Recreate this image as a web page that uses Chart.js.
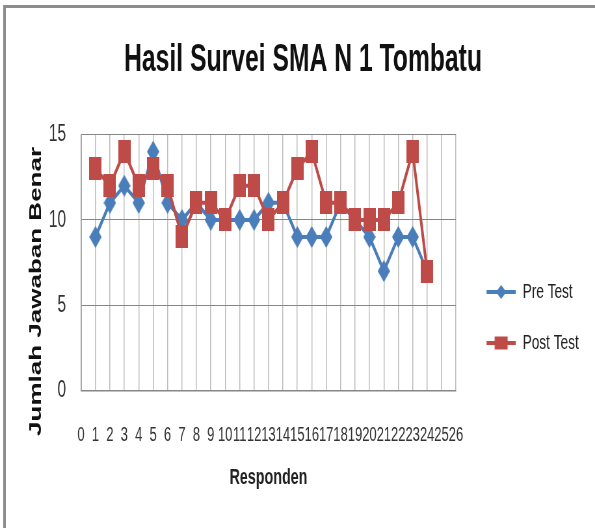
<!DOCTYPE html>
<html>
<head>
<meta charset="utf-8">
<title>Hasil Survei SMA N 1 Tombatu</title>
<script src="https://cdn.jsdelivr.net/npm/chart.js@4.4.0/dist/chart.umd.min.js"></script>
<style>
  html, body { margin: 0; padding: 0; background: #fff; }
</style>
</head>
<body>
<!-- the reference picture is squeezed sideways, so the chart is drawn 915 wide and shown at 595 -->
<canvas id="chart" width="915" height="528" style="width:595px;height:528px"></canvas>
<script>
const responden = ['0', '1', '2', '3', '4', '5', '6', '7', '8', '9', '10', '11', '12', '13',
  '14', '15', '16', '17', '18', '19', '20', '21', '22', '23', '24', '25', '26'];
const preTest = [null, 9, 11, 12, 11, 14, 11, 10, 11, 10, 10, 10, 10, 11, 11,
  9, 9, 9, 11, 10, 9, 7, 9, 9, 7, null, null];
const postTest = [null, 13, 12, 14, 12, 13, 12, 9, 11, 11, 10, 12, 12, 10, 11,
  13, 14, 11, 11, 10, 10, 10, 11, 14, 7, null, null];
const yTicks = [0, 5, 10, 15];

const BLUE = '#4A7EBB';
const RED = '#BE4B48';
const FONT = "'Liberation Sans', Arial, sans-serif";
Chart.defaults.font.family = FONT;

// markers are a bit taller than wide in the reference
function marker(color, shape, w, h) {
  const c = document.createElement('canvas');
  c.width = w;
  c.height = h;
  const g = c.getContext('2d');
  g.fillStyle = color;
  g.beginPath();
  if (shape === 'diamond') {
    g.moveTo(0, h / 2);
    g.lineTo(w / 2, 0);
    g.lineTo(w, h / 2);
    g.lineTo(w / 2, h);
  } else {
    g.rect(0, 0, w, h);
  }
  g.fill();
  return c;
}
const diamond = marker(BLUE, 'diamond', 19, 22);
const square = marker(RED, 'square', 19, 23);

// small line + marker pictures for the legend
function legendIcon(color, shape) {
  const c = document.createElement('canvas');
  c.width = 62;
  c.height = 24;
  const g = c.getContext('2d');
  g.strokeStyle = color;
  g.fillStyle = color;
  g.lineWidth = 4;
  g.beginPath();
  g.moveTo(17, 12);
  g.lineTo(62, 12);
  g.stroke();
  const cx = 39.5;
  g.beginPath();
  if (shape === 'diamond') {
    g.moveTo(cx - 8, 12);
    g.lineTo(cx, 5);
    g.lineTo(cx + 8, 12);
    g.lineTo(cx, 19);
  } else {
    g.rect(cx - 10, 5.5, 20, 13);
  }
  g.fill();
  return c;
}
const icons = [legendIcon(BLUE, 'diamond'), legendIcon(RED, 'square')];

const frame = {
  id: 'frame',
  beforeDraw(chart) {
    const ctx = chart.ctx;
    ctx.save();
    ctx.fillStyle = '#fff';
    ctx.fillRect(0, 0, chart.width, chart.height);
    ctx.fillStyle = '#8c8c8c';
    ctx.fillRect(5, 5, chart.width, 3);
    ctx.fillRect(5, 5, 4, chart.height);
    ctx.restore();
  }
};

new Chart(document.getElementById('chart'), {
  type: 'line',
  data: {
    labels: responden,
    datasets: [{
      label: 'Pre Test',
      data: preTest,
      borderColor: BLUE,
      backgroundColor: BLUE,
      borderWidth: 4,
      pointStyle: diamond,
      pointRadius: 10,
      tension: 0,
      order: 1
    }, {
      label: 'Post Test',
      data: postTest,
      borderColor: RED,
      backgroundColor: RED,
      borderWidth: 4,
      pointStyle: square,
      pointRadius: 12,
      tension: 0,
      order: 0
    }]
  },
  options: {
    responsive: false,
    animation: false,
    devicePixelRatio: 1,
    layout: { padding: { left: 32, right: 15, top: 0, bottom: 0 } },
    plugins: {
      title: {
        display: true,
        text: 'Hasil Survei SMA N 1 Tombatu',
        color: '#111',
        font: { size: 38, weight: 'bold', lineHeight: 1.2 },
        padding: { top: 38, bottom: 51 }
      },
      legend: {
        position: 'right',
        align: 'center',
        title: { display: true, text: '', font: { size: 10, lineHeight: 1 }, padding: { top: 97, bottom: 0 } },
        labels: {
          usePointStyle: true,
          pointStyleWidth: 62,
          padding: 30,
          color: '#222',
          font: { size: 21 },
          sort: (a, b) => a.datasetIndex - b.datasetIndex,
          generateLabels(chart) {
            const items = Chart.defaults.plugins.legend.labels.generateLabels(chart);
            items.forEach(it => { it.pointStyle = icons[it.datasetIndex]; });
            return items;
          }
        }
      },
      tooltip: { enabled: false }
    },
    scales: {
      x: {
        grid: { color: '#bdbdbd', lineWidth: 1.5, drawTicks: true, tickLength: 28, tickColor: 'rgba(0,0,0,0)' },
        border: { color: '#868686', width: 1.5 },
        ticks: { autoSkip: false, maxRotation: 0, minRotation: 0, padding: 5, color: '#333', font: { size: 20 } },
        title: {
          display: true,
          text: 'Responden',
          color: '#222',
          font: { size: 22, weight: 'bold', lineHeight: 1.2 },
          padding: { top: 12.3, bottom: 36.8 }
        }
      },
      y: {
        min: 0,
        max: 15,
        afterBuildTicks(scale) { scale.ticks = yTicks.map(v => ({ value: v })); },
        afterFit(scale) { scale.width = 92.6; },
        grid: { color: '#868686', drawTicks: false },
        border: { color: '#868686', width: 1.5 },
        ticks: { padding: 23, color: '#333', font: { size: 24 } },
        title: {
          display: true,
          text: 'Jumlah Jawaban Benar        ',
          color: '#111',
          font: { size: 26, weight: 'bold', lineHeight: 1.2 },
          padding: { top: 7.8, bottom: 0 }
        }
      }
    }
  },
  plugins: [frame]
});
</script>
</body>
</html>
